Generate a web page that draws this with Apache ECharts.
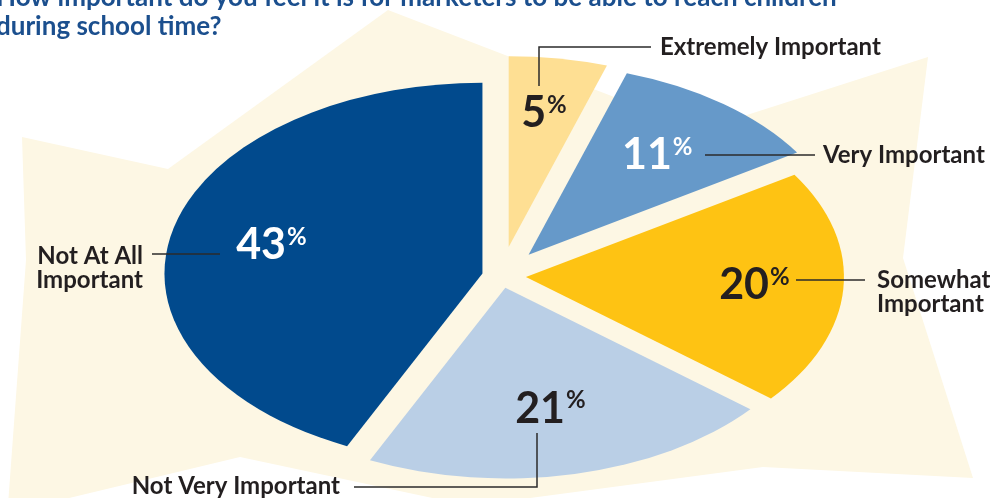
<!DOCTYPE html>
<html>
<head>
<meta charset="utf-8">
<title>Reaching children during school time</title>
<script src="https://cdn.jsdelivr.net/npm/echarts@6/dist/echarts.min.js"></script>
<style>
  html, body { margin: 0; padding: 0; background: #ffffff; }
  #chart { width: 990px; height: 498px; }
</style>
</head>
<body>
<div id="chart"></div>
<script>
// Survey answers, clockwise from twelve o'clock
const categories = ['Extremely Important', 'Very Important', 'Somewhat Important', 'Not Very Important', 'Not At All Important'];
const calloutText = ['Extremely Important', 'Very Important', 'Somewhat\nImportant', 'Not Very Important', 'Not At All\nImportant'];
const shares = [5, 11, 20, 21, 43];

const questionText = 'How important do you feel it is for marketers to be able to reach children\nduring school time?';

// Pie geometry: a circle flattened vertically into an ellipse
const pie = { cx: 501, cy: 276, r: 318, squash: 0.6 };

// Per-slice look: fill, pull-out distance, percent label colour and radius ratio
const sliceStyle = [
  { fill: '#fedf93', explode: 49, text: '#231f20', labelRatio: 0.71 },
  { fill: '#6699c9', explode: 45, text: '#ffffff', labelRatio: 0.66 },
  { fill: '#fec313', explode: 25, text: '#231f20', labelRatio: 0.72 },
  { fill: '#bacfe6', explode: 20, text: '#231f20', labelRatio: 0.65 },
  { fill: '#014a8d', explode: 19, text: '#ffffff', labelRatio: 0.68 }
];

// Callout placement: leader polyline and name anchor
const callouts = [
  { line: [[539, 86], [539, 47], [651, 47]], x: 660, y: 47, align: 'left' },
  { line: [[705, 155], [815, 155]], x: 823, y: 155, align: 'left' },
  { line: [[796, 280], [865, 280]], x: 877, y: 292, align: 'left' },
  { line: [[537, 433], [537, 487], [354, 487]], x: 340, y: 486, align: 'right' },
  { line: [[220, 254], [152, 254]], x: 143, y: 268, align: 'right' }
];

// Cream starburst behind the pie
const backdrop = [
  [22, 137], [168, 169], [388, 10], [700, 130], [928, 57], [903, 258],
  [973, 478], [763, 467], [470, 506], [240, 457], [40, 505], [8, 505], [26, 260]
];

const total = shares.reduce((a, b) => a + b, 0);
const startShare = [];
shares.reduce((acc, v, i) => { startShare[i] = acc; return acc + v; }, 0);

const FONT = 'Lato, "Open Sans", sans-serif';
const deg = Math.PI / 180;

function renderSlice(params, api) {
  const i = params.dataIndex;
  const v = api.value(0);
  const a0 = startShare[i] / total * 360;
  const a1 = (startShare[i] + v) / total * 360;
  const mid = (a0 + a1) / 2;
  const st = sliceStyle[i];
  const ox = pie.cx + st.explode * Math.sin(mid * deg);
  const oy = pie.cy - st.explode * Math.cos(mid * deg);
  const lr = pie.r * st.labelRatio;
  const lx = ox + lr * Math.sin(mid * deg);
  const ly = pie.cy + (oy - lr * Math.cos(mid * deg) - pie.cy) * pie.squash;
  const c = callouts[i];
  return {
    type: 'group',
    children: [
      {
        type: 'sector',
        shape: { cx: ox, cy: oy, r: pie.r, r0: 0, startAngle: (a0 - 90) * deg, endAngle: (a1 - 90) * deg, clockwise: true },
        originX: pie.cx, originY: pie.cy, scaleY: pie.squash,
        style: { fill: st.fill }
      },
      {
        type: 'polyline',
        shape: { points: c.line },
        style: { stroke: '#2b2b2b', lineWidth: 1.5, fill: null }
      },
      {
        type: 'text', x: lx, y: ly,
        style: {
          text: '{n|' + v + '}{p|%}',
          align: 'center', verticalAlign: 'middle',
          rich: {
            n: { fontFamily: FONT, fontWeight: 'bold', fontSize: 43, lineHeight: 44, fill: st.text },
            p: { fontFamily: FONT, fontWeight: 'bold', fontSize: 24, lineHeight: 44, verticalAlign: 'top', padding: [2, 0, 0, 1], fill: st.text }
          }
        }
      },
      {
        type: 'text', x: c.x, y: c.y,
        style: {
          text: calloutText[i],
          align: c.align, verticalAlign: 'middle',
          fontFamily: FONT, fontWeight: 'bold', fontSize: 24, lineHeight: 24,
          fill: '#231f20'
        }
      }
    ]
  };
}

const chart = echarts.init(document.getElementById('chart'), null, { renderer: 'canvas' });
chart.setOption({
  animation: false,
  backgroundColor: '#ffffff',
  title: {
    text: questionText,
    left: -9, top: -22,
    textStyle: { fontFamily: FONT, fontWeight: 'bold', fontSize: 26, lineHeight: 29, color: '#1b4f8e' }
  },
  graphic: [
    { type: 'polygon', z: 0, silent: true, shape: { points: backdrop }, style: { fill: '#fdf7e4' } }
  ],
  series: [{
    type: 'custom',
    name: 'Importance',
    coordinateSystem: 'none',
    z: 2,
    renderItem: renderSlice,
    data: shares.map((v, i) => ({ name: categories[i], value: [v] }))
  }]
});
</script>
</body>
</html>
